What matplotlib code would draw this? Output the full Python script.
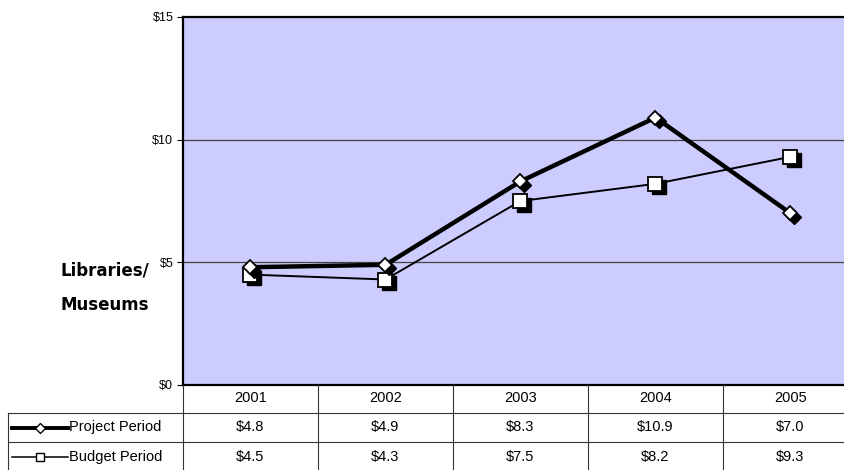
import matplotlib.pyplot as plt
import matplotlib.transforms as mtransforms

# data
years = ["2001", "2002", "2003", "2004", "2005"]
project_period = [4.8, 4.9, 8.3, 10.9, 7.0]
budget_period = [4.5, 4.3, 7.5, 8.2, 9.3]
project_labels = ["$4.8", "$4.9", "$8.3", "$10.9", "$7.0"]
budget_labels = ["$4.5", "$4.3", "$7.5", "$8.2", "$9.3"]
y_ticks = [0, 5, 10, 15]
y_tick_labels = ["$0", "$5", "$10", "$15"]

W, H = 845, 470
fig = plt.figure(figsize=(W / 100, H / 100), dpi=100)

# plot area in pixels
px_left, px_right, px_top, px_bottom = 183, 858, 17, 385
ax = fig.add_axes([px_left / W, 1 - px_bottom / H,
                   (px_right - px_left) / W, (px_bottom - px_top) / H])
ax.set_facecolor("#CCCCFF")
x = list(range(len(years)))
ax.set_xlim(-0.5, len(years) - 0.5)
ax.set_ylim(0, 15)

for v in [5, 10]:
    ax.axhline(v, color="#444444", lw=0.9, zorder=1)

shadow = mtransforms.offset_copy(ax.transData, fig=fig, x=3.5, y=-3.5, units="dots")

# lines
ax.plot(x, project_period, color="black", lw=3.2, zorder=2, solid_capstyle="butt")
ax.plot(x, budget_period, color="black", lw=1.4, zorder=2)

# shadows then markers
ax.plot(x, budget_period, ls="none", marker="s", ms=10.5, mfc="black", mec="black",
        transform=shadow, zorder=3)
ax.plot(x, budget_period, ls="none", marker="s", ms=10.5, mfc="white", mec="black",
        mew=1.3, zorder=4)
ax.plot(x, project_period, ls="none", marker="D", ms=7.5, mfc="black", mec="black",
        transform=shadow, zorder=5)
ax.plot(x, project_period, ls="none", marker="D", ms=7.5, mfc="white", mec="black",
        mew=1.3, zorder=6)

ax.set_yticks(y_ticks)
ax.set_yticklabels(y_tick_labels, fontsize=9, family="Liberation Sans")
ax.tick_params(axis="y", length=4, width=0.8, pad=3)
ax.set_xticks([])
for side in ["left", "top", "bottom"]:
    ax.spines[side].set_linewidth(1.6)
ax.spines["right"].set_visible(False)

fig.text(105 / W, 1 - 288 / H, "Libraries/\nMuseums", ha="center", va="center",
         fontsize=12, fontweight="bold", family="DejaVu Sans", linespacing=2.2)

# data table below the plot
tab_left, tab_top, tab_bottom = 8, 385, 471
tax = fig.add_axes([tab_left / W, 1 - tab_bottom / H,
                    (px_right - tab_left) / W, (tab_bottom - tab_top) / H])
unit = (px_right - px_left) / len(years)
x0 = -0.5 - (px_left - tab_left) / unit
tax.set_xlim(x0, len(years) - 0.5)
row_edges = [0, 28, 57, 86]
tax.set_ylim(row_edges[-1], 0)
tax.axis("off")

lc = "#333333"
lw = 0.8
# vertical lines between year columns
for i in range(len(years) + 1):
    tax.plot([i - 0.5, i - 0.5], [0, row_edges[-1]], color=lc, lw=lw, clip_on=False)
tax.plot([x0, x0], [row_edges[1], row_edges[-1]], color=lc, lw=lw, clip_on=False)
for r in row_edges[1:]:
    tax.plot([x0, len(years) - 0.5], [r, r], color=lc, lw=lw, clip_on=False)

font = dict(fontsize=10.5, family="Liberation Sans", ha="center", va="center")
for i, yr in enumerate(years):
    tax.text(i, 13, yr, **font)
    tax.text(i, 42.5, project_labels[i], **font)
    tax.text(i, 71.5, budget_labels[i], **font)

# legend keys in the row label column
seg0 = x0 + 4 / unit
seg1 = x0 + 60 / unit
mid = (seg0 + seg1) / 2
tax.plot([seg0, seg1], [42.5, 42.5], color="black", lw=2.8, clip_on=False)
tax.plot([mid], [42.5], marker="D", ms=5, mfc="white", mec="black", mew=1, clip_on=False)
tax.plot([seg0, seg1], [71.5, 71.5], color="black", lw=1.1, clip_on=False)
tax.plot([mid], [71.5], marker="s", ms=5.5, mfc="white", mec="black", mew=1, clip_on=False)
tax.text(seg1 + 1 / unit, 42.5, "Project Period", fontsize=10.5, family="Liberation Sans",
         ha="left", va="center")
tax.text(seg1 + 1 / unit, 71.5, "Budget Period", fontsize=10.5, family="Liberation Sans",
         ha="left", va="center")

fig.savefig("out.png", dpi=100)
